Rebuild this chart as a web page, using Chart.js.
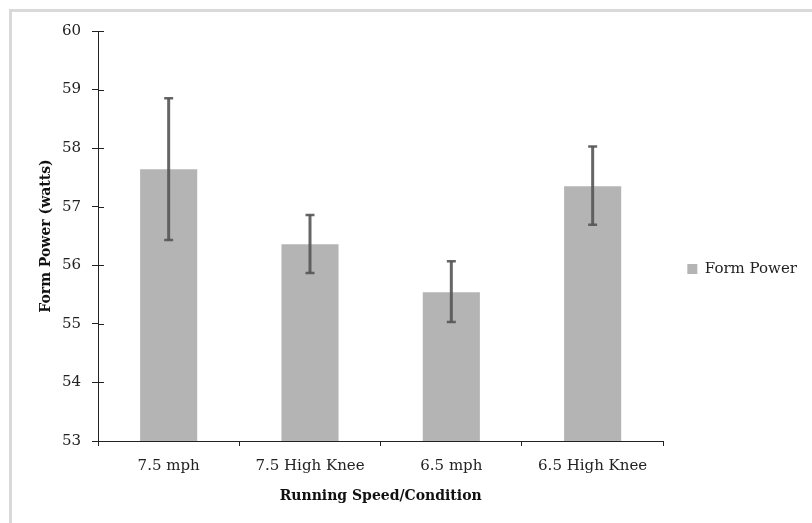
<!DOCTYPE html>
<html>
<head>
<meta charset="utf-8">
<script src="https://cdn.jsdelivr.net/npm/chart.js@4"></script>
<style>
  html, body { margin: 0; padding: 0; background: #fff; }
  #wrap { position: relative; width: 812px; height: 523px; overflow: hidden; }
  #frame { position: absolute; left: 9px; top: 9px; right: -10px; bottom: -10px;
           border-top: 3px solid #d9d9d9; border-left: 3px solid #d9d9d9; pointer-events: none; }
  canvas { position: absolute; left: 0; top: 0; }
</style>
</head>
<body>
<div id="wrap">
  <canvas id="chart" width="812" height="523"></canvas>
  <div id="frame"></div>
</div>
<script>
'use strict';

const categories = ['7.5 mph', '7.5 High Knee', '6.5 mph', '6.5 High Knee'];
const formPower = [57.64, 56.36, 55.54, 57.35];
const errLow = [56.43, 55.87, 55.03, 56.69];
const errHigh = [58.85, 56.86, 56.07, 58.03];

const FONT = 'DejaVu Serif';

// error bars drawn from the data through the chart scales
const errorBars = {
  id: 'errorBars',
  afterDatasetsDraw(chart) {
    const { ctx, scales: { x, y } } = chart;
    ctx.save();
    ctx.strokeStyle = 'rgba(85,85,85,0.9)';
    categories.forEach((c, i) => {
      const px = x.getPixelForValue(i);
      const top = y.getPixelForValue(errHigh[i]);
      const bot = y.getPixelForValue(errLow[i]);
      ctx.lineWidth = 3;
      ctx.beginPath();
      ctx.moveTo(px, top);
      ctx.lineTo(px, bot);
      ctx.stroke();
      ctx.lineWidth = 2.5;
      ctx.beginPath();
      ctx.moveTo(px - 4.5, top);
      ctx.lineTo(px + 4.5, top);
      ctx.moveTo(px - 4.5, bot);
      ctx.lineTo(px + 4.5, bot);
      ctx.stroke();
    });
    ctx.restore();
  }
};

// y ticks cross the axis line, so add the inner half
const innerTicks = {
  id: 'innerTicks',
  afterDraw(chart) {
    const { ctx, scales: { y } } = chart;
    const ax = chart.chartArea.left;
    ctx.save();
    ctx.strokeStyle = '#222';
    ctx.lineWidth = 1;
    y.ticks.forEach(t => {
      const py = Math.round(y.getPixelForValue(t.value)) + 0.5;
      ctx.beginPath();
      ctx.moveTo(ax, py);
      ctx.lineTo(ax + 6, py);
      ctx.stroke();
    });
    ctx.restore();
  }
};

new Chart(document.getElementById('chart').getContext('2d'), {
  type: 'bar',
  data: {
    labels: categories,
    datasets: [{
      label: 'Form Power',
      data: formPower,
      backgroundColor: '#b4b4b4',
      borderWidth: 0,
      categoryPercentage: 1,
      barPercentage: 0.404
    }]
  },
  options: {
    responsive: false,
    animation: false,
    layout: { padding: { left: 32, top: 31, right: 5, bottom: 16 } },
    plugins: {
      legend: {
        position: 'right',
        labels: {
          boxWidth: 10,
          boxHeight: 10,
          padding: 24,
          color: '#222',
          font: { family: FONT, size: 15 }
        }
      },
      tooltip: { enabled: false }
    },
    scales: {
      x: {
        afterFit: s => { s.height = 66; },
        grid: { offset: true, drawOnChartArea: false, tickLength: 5, color: '#222' },
        border: { color: '#222', width: 1 },
        ticks: { color: '#222', padding: 11, font: { family: FONT, size: 15 } },
        title: {
          display: true,
          text: 'Running Speed/Condition',
          color: '#111',
          padding: { top: 0, bottom: 2 },
          font: { family: FONT, size: 14, weight: 'bold' }
        }
      },
      y: {
        min: 53,
        max: 60,
        afterFit: s => { s.width = 66; },
        grid: { drawOnChartArea: false, tickLength: 6, color: '#222' },
        border: { color: '#222', width: 1 },
        ticks: { stepSize: 1, color: '#222', padding: 11, font: { family: FONT, size: 15 } },
        title: {
          display: true,
          text: 'Form Power (watts)',
          color: '#111',
          padding: { top: 6, bottom: 0 },
          font: { family: FONT, size: 14, weight: 'bold' }
        }
      }
    }
  },
  plugins: [errorBars, innerTicks]
});
</script>
</body>
</html>
